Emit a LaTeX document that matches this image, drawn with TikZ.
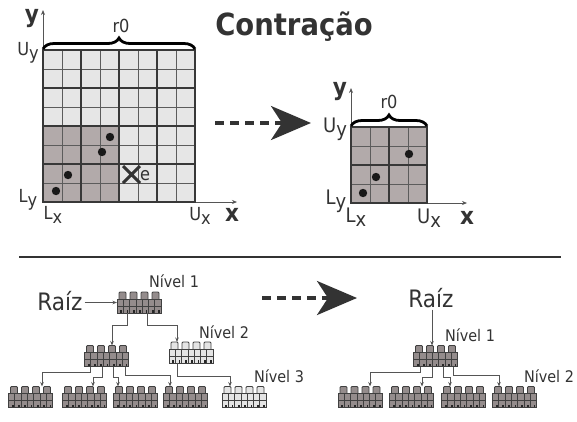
\documentclass[tikz,border=0pt]{standalone}
\usepackage{fontspec}
\setmainfont{DejaVu Sans Condensed}
\usetikzlibrary{decorations.pathreplacing,arrows.meta}

\definecolor{txt}{HTML}{333333}
\definecolor{cellL}{HTML}{E6E6E6}
\definecolor{cellD}{HTML}{B2AAAA}
\definecolor{gridmaj}{HTML}{383838}
\definecolor{gridmin}{HTML}{5C5C5C}
\definecolor{axisc}{HTML}{555555}
\definecolor{blkD}{HTML}{948C8C}
\definecolor{blkL}{HTML}{E4E4E4}
\definecolor{blkE}{HTML}{404040}

% letter with a lowered companion letter (U_y, L_x, ...)
\newcommand\sublbl[2]{#1\raisebox{-0.45ex}{#2}}

% block icon, top-left corner at the origin (y grows downwards)
\newcommand\blkicon[1]{%
  \foreach \t in {2,13,24,35}{
    \draw[blkE,fill=#1,line width=0.8pt,rounded corners=1pt]
      (\t,7) -- (\t,0) -- (\t+7,0) -- (\t+7,7);
  }
  \draw[blkE,fill=#1,line width=0.8pt] (0,7) rectangle (44,21);
  \draw[blkE,line width=0.8pt] (0,14) -- (44,14);
  \foreach \c in {1,...,6}{\draw[blkE,line width=0.6pt] (\c*44/7,7) -- (\c*44/7,21);}
  \foreach \c in {0,...,6}{\fill[black!85] (\c*44/7+3.4,18.4) rectangle ++(1.7,2.2);}
}
% named block node with its icon
\newcommand\blknode[4]{%
  \node[blkbox] (#1) at (#2,#3) {};
  \begin{scope}[shift={(#1.north west)}]\blkicon{#4}\end{scope}
}

\tikzset{
  blkbox/.style={minimum width=44pt,minimum height=21pt,inner sep=0pt,outer sep=0pt},
  lbl/.style={text=txt,anchor=base,inner sep=1pt,font=\fontsize{18}{18}\selectfont},
  lblS/.style={lbl,font=\fontsize{20}{20}\selectfont},
  axlbl/.style={text=txt,anchor=base,inner sep=1pt,font=\bfseries\fontsize{24}{24}\selectfont},
  lvl/.style={text=txt,anchor=base,inner sep=1pt,font=\fontsize{16}{16}\selectfont},
  rootlbl/.style={text=txt,anchor=base,inner sep=2pt,font=\fontsize{24}{24}\selectfont},
  axisline/.style={axisc,line width=0.7pt,-{Stealth[length=5pt,width=4pt]}},
  minline/.style={gridmin,line width=0.8pt},
  majline/.style={gridmaj,line width=1.2pt},
  bracket/.style={black,line width=2.8pt,decorate,decoration={brace,amplitude=11pt}},
  dot/.style={fill=black!90},
  conn/.style={axisc,line width=0.75pt,-{Stealth[length=4.5pt,width=3.5pt]}},
  bigarrow/.style={txt,line width=3.5pt,dash pattern=on 9pt off 6pt,
    -{Stealth[length=40pt,width=34pt,inset=11pt]}},
}

\begin{document}
\begin{tikzpicture}[x=1pt,y=-1pt]
\useasboundingbox (0,0) rectangle (577,421);

% ---------- title ----------
\node[text=txt,anchor=base,inner sep=0pt,font=\bfseries\fontsize{30.5}{30}\selectfont] (title) at (294,35) {Contração};

% ---------- original grid ----------
\draw[axisline] (43,202) -- (43,10);
\draw[axisline] (43,202) -- (237,202);
\fill[cellL] (43,50) rectangle (195,202);
\fill[cellD] (43,126) rectangle (119,202);
\foreach \i in {1,3,5,7}{
  \draw[minline] (43+\i*19,50) -- (43+\i*19,202);
  \draw[minline] (43,50+\i*19) -- (195,50+\i*19);
}
\foreach \i in {2,4,6}{
  \draw[majline] (43+\i*19,50) -- (43+\i*19,202);
  \draw[majline] (43,50+\i*19) -- (195,50+\i*19);
}
\draw[majline] (43,50) rectangle (195,202);
\draw[bracket] (43,49) -- (195,49);

\foreach \p in {(110,137),(102,152),(68,175),(56,191)}{\fill[dot] \p circle (4.2);}
\draw[txt,line width=3pt] (123,166) -- (140,183) (123,183) -- (140,166);
\node[lbl] (e) at (145,180) {e};

\node[axlbl] (ybig) at (32,22) {y};
\node[axlbl] (xbig) at (232,221) {x};
\node[lbl] (r0big) at (121,32) {r0};
\node[lbl] (uybig) at (28,55) {\sublbl{U}{y}};
\node[lbl] (lybig) at (28,202) {\sublbl{L}{y}};
\node[lbl] (lxbig) at (53,219) {\sublbl{L}{x}};
\node[lbl] (uxbig) at (200,220) {\sublbl{U}{x}};

% ---------- contraction arrow ----------
\coordinate (ga) at (215,123);
\coordinate (gb) at (311,123);
\draw[bigarrow] (ga) -- (gb);

% ---------- contracted grid ----------
\draw[axisline] (351,203) -- (351,88);
\draw[axisline] (351,203) -- (467,203);
\fill[cellD] (351,127) rectangle (427,203);
\foreach \i in {1,3}{
  \draw[minline] (351+\i*19,127) -- (351+\i*19,203);
  \draw[minline] (351,127+\i*19) -- (427,127+\i*19);
}
\draw[majline] (389,127) -- (389,203);
\draw[majline] (351,165) -- (427,165);
\draw[majline] (351,127) rectangle (427,203);
\draw[bracket] (351,126) -- (427,126);
\foreach \p in {(409,154),(376,177),(363,193)}{\fill[dot] \p circle (4.2);}

\node[axlbl] (ysm) at (340,95) {y};
\node[axlbl] (xsm) at (467,224) {x};
\node[lbl] (r0sm) at (389,108) {r0};
\node[lblS] (uysm) at (335,132) {\sublbl{U}{y}};
\node[lblS] (lysm) at (336,204) {\sublbl{L}{y}};
\node[lblS] (lxsm) at (356,222) {\sublbl{L}{x}};
\node[lblS] (uxsm) at (429,223) {\sublbl{U}{x}};

% ---------- separator ----------
\draw[txt,line width=1.2pt] (19,257) -- (561,257);

% ---------- tree before contraction ----------
\node[rootlbl] (raiz1) at (60,310) {Raíz};
\blknode{r1}{139}{302.5}{blkD}
\blknode{a}{106.5}{356}{blkD}
\blknode{b}{191}{352.5}{blkL}
\blknode{c1}{30.5}{397}{blkD}
\blknode{c2}{84.5}{397}{blkD}
\blknode{c3}{135.5}{397}{blkD}
\blknode{c4}{185.5}{397}{blkD}
\blknode{c5}{244}{397}{blkL}
\node[lvl] (n1a) at (174,287) {Nível 1};
\node[lvl] (n2a) at (224,338) {Nível 2};
\node[lvl] (n3a) at (279,382) {Nível 3};

\draw[conn] (r1.west -| raiz1.east) -- (r1.west);
\draw[conn] ([xshift=-12pt]r1.south) -- ++(0,12) -| ([xshift=5.5pt]a.north);
\draw[conn] ([xshift=8pt]r1.south) -- ++(0,12) -| ([xshift=-14pt]b.north);
\draw[conn] ([xshift=-16.5pt]a.south) -- ++(0,6) -| ([xshift=11.5pt]c1.north);
\draw[conn] ([xshift=-4.5pt]a.south) -- ++(0,11) -| ([xshift=8.5pt]c2.north);
\draw[conn] ([xshift=6.5pt]a.south) -- ++(0,11) -| ([xshift=-17.5pt]c3.north);
\draw[conn] ([xshift=18.5pt]a.south) -- ++(0,9) -| ([xshift=-15.5pt]c4.north);
\draw[conn] ([xshift=-14pt]b.south) -- ++(0,13) -| ([xshift=-14pt]c5.north);

% ---------- bottom arrow ----------
\coordinate (ta) at (262,298);
\coordinate (tb) at (357,298);
\draw[bigarrow] (ta) -- (tb);

% ---------- tree after contraction ----------
\node[rootlbl] (raiz2) at (431,307) {Raíz};
\blknode{r2}{435.5}{356}{blkD}
\blknode{d1}{360}{397}{blkD}
\blknode{d2}{411.5}{397}{blkD}
\blknode{d3}{463.5}{397}{blkD}
\blknode{d4}{514.5}{397}{blkD}
\node[lvl] (n1b) at (470,341) {Nível 1};
\node[lvl] (n2b) at (549,382) {Nível 2};

\draw[conn] ([xshift=-3.5pt]r2.north |- raiz2.south) -- ([xshift=-3.5pt]r2.north);
\draw[conn] ([xshift=-15.5pt]r2.south) -- ++(0,6) -| ([xshift=10pt]d1.north);
\draw[conn] ([xshift=-3.5pt]r2.south) -- ++(0,11) -| ([xshift=10.5pt]d2.north);
\draw[conn] ([xshift=7.5pt]r2.south) -- ++(0,11) -| ([xshift=-13.5pt]d3.north);
\draw[conn] ([xshift=17.5pt]r2.south) -- ++(0,9) -| ([xshift=-15.5pt]d4.north);
\end{tikzpicture}
\end{document}
